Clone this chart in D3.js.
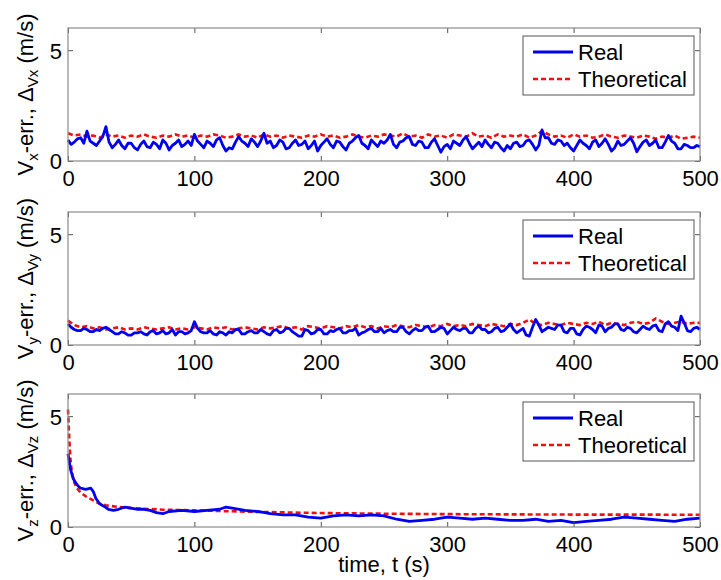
<!DOCTYPE html>
<html>
<head>
<meta charset="utf-8">
<script src="https://cdn.jsdelivr.net/npm/d3@7"></script>
<style>
  body { margin: 0; background: #fff; }
  svg { display: block; font-family: Arial, "Liberation Sans", sans-serif; }
</style>
</head>
<body>
<div id="chart"></div>
<script>
'use strict';

// x ticks + y ticks shared by all three panels
const xTicks = [0, 100, 200, 300, 400, 500];
const yTicks = [0, 5];
const legendLabels = ['Real', 'Theoretical'];

// panels 1 and 2: real sampled every 2.5 s, theoretical every 5 s
const tFine = d3.range(0, 501, 2.5);
const tStep = d3.range(0, 501, 5);

const realX = [
  0.95, 0.75, 0.85, 1.0, 1.05, 0.8, 1.35, 0.9, 0.8, 0.7, 0.9, 1.1, 1.55, 0.85, 0.6, 0.75, 0.95, 0.7, 0.55, 0.8,
  0.8, 0.6, 0.5, 0.75, 0.9, 0.65, 0.6, 0.85, 0.75, 0.55, 0.95, 0.8, 0.5, 0.7, 0.8, 0.95, 0.65, 0.75, 0.9, 0.7,
  1.2, 0.9, 0.75, 0.6, 0.9, 0.8, 0.65, 0.95, 1.05, 0.7, 0.45, 0.6, 0.55, 0.85, 1.1, 0.9, 0.8, 0.65, 1.0, 0.85,
  0.65, 0.9, 1.25, 0.8, 0.9, 0.6, 0.7, 0.95, 0.85, 0.55, 0.6, 0.8, 0.95, 0.7, 0.75, 0.9, 0.55, 0.7, 0.9, 0.45,
  0.7, 0.85, 1.0, 0.75, 0.6, 0.9, 0.85, 0.65, 0.5, 0.8, 0.9, 1.05, 1.15, 0.8, 0.7, 0.55, 0.95, 0.8, 0.65, 0.9,
  0.8, 0.95, 1.2, 0.75, 0.6, 0.85, 0.9, 1.05, 1.1, 0.75, 0.7, 0.9, 0.85, 0.6, 0.6, 0.85, 1.0, 0.7, 0.4, 0.65,
  0.75, 0.55, 0.9, 0.8, 0.7, 0.95, 1.1, 0.8, 0.55, 0.7, 0.85, 0.65, 0.95, 0.75, 0.6, 0.85, 0.8, 0.6, 0.45, 0.7,
  0.55, 0.8, 0.85, 0.65, 0.7, 0.9, 0.95, 0.75, 0.5, 0.7, 1.4, 1.05, 1.05, 0.8, 0.75, 0.95, 0.9, 0.7, 0.8, 0.6,
  0.45, 0.7, 0.95, 0.8, 0.7, 0.55, 0.85, 0.95, 0.65, 0.8, 1.0, 0.75, 0.45, 0.6, 0.9, 0.7, 0.75, 0.9, 1.05, 0.8,
  0.42, 0.65, 0.85, 0.95, 0.7, 0.8, 0.95, 0.6, 0.6, 0.85, 1.15, 0.9, 0.8, 0.55, 0.55, 0.75, 0.7, 0.6, 0.6, 0.7,
  0.65
];
const theoX = [
  1.25, 1.15, 1.2, 1.1, 1.15, 1.05, 1.2, 1.1, 1.15, 1.05,
  1.15, 1.1, 1.2, 1.1, 1.05, 1.15, 1.1, 1.2, 1.1, 1.15,
  1.05, 1.15, 1.1, 1.2, 1.15, 1.05, 1.1, 1.2, 1.1, 1.15,
  1.05, 1.2, 1.1, 1.15, 1.05, 1.15, 1.1, 1.05, 1.15, 1.1,
  1.2, 1.1, 1.15, 1.05, 1.1, 1.2, 1.1, 1.05, 1.15, 1.1,
  1.2, 1.15, 1.1, 1.25, 1.1, 1.15, 1.05, 1.2, 1.1, 1.15,
  1.05, 1.2, 1.15, 1.1, 1.25, 1.1, 1.15, 1.05, 1.2, 1.1,
  1.15, 1.1, 1.2, 1.05, 1.15, 1.35, 1.2, 1.1, 1.15, 1.05,
  1.2, 1.1, 1.15, 1.05, 1.1, 1.2, 1.1, 1.05, 1.15, 1.1,
  1.05, 1.15, 1.1, 1.0, 1.1, 1.05, 1.15, 1.0, 1.05, 1.1,
  1.05
];

const realY = [
  0.95, 0.8, 0.7, 0.65, 0.65, 0.75, 0.7, 0.6, 0.6, 0.7, 0.65, 0.75, 0.8, 0.7, 0.6, 0.5, 0.5, 0.6, 0.55, 0.45,
  0.45, 0.55, 0.55, 0.6, 0.5, 0.45, 0.6, 0.65, 0.5, 0.55, 0.65, 0.5, 0.55, 0.7, 0.45, 0.6, 0.6, 0.5, 0.55, 0.65,
  1.05, 0.75, 0.6, 0.55, 0.55, 0.65, 0.5, 0.45, 0.6, 0.55, 0.45, 0.6, 0.55, 0.7, 0.7, 0.5, 0.5, 0.6, 0.65, 0.55,
  0.55, 0.7, 0.6, 0.5, 0.45, 0.65, 0.7, 0.55, 0.6, 0.75, 0.75, 0.6, 0.5, 0.4, 0.4, 0.7, 0.65, 0.5, 0.55, 0.7,
  0.7, 0.5, 0.5, 0.65, 0.6, 0.7, 0.75, 0.55, 0.55, 0.65, 0.65, 0.75, 0.45, 0.55, 0.6, 0.7, 0.75, 0.6, 0.6, 0.75,
  0.55, 0.65, 0.7, 0.6, 0.6, 0.8, 0.8, 0.6, 0.5, 0.65, 0.75, 0.65, 0.65, 0.8, 0.85, 0.6, 0.6, 0.7, 0.8, 0.75,
  0.5, 0.65, 0.8, 0.7, 0.65, 0.75, 0.75, 0.55, 0.55, 0.75, 0.85, 0.7, 0.7, 0.55, 0.6, 0.75, 0.8, 0.6, 0.65, 0.8,
  0.95, 0.7, 0.55, 0.65, 0.75, 0.45, 0.4, 0.8, 1.15, 0.9, 0.6, 0.7, 0.8, 0.75, 0.7, 0.9, 0.9, 0.6, 0.55, 0.75,
  0.75, 0.5, 0.45, 0.7, 0.85, 0.8, 0.7, 0.55, 0.9, 0.85, 0.6, 0.75, 0.8, 0.95, 0.95, 0.7, 0.65, 0.8, 0.75, 0.6,
  0.55, 0.7, 0.85, 0.75, 0.7, 0.85, 0.9, 0.65, 0.6, 0.95, 1.05, 0.85, 0.8, 0.65, 1.3, 1.0, 0.65, 0.6, 0.75, 0.8,
  0.7
];
const theoY = [
  1.1, 0.9, 0.8, 0.85, 0.75, 0.8, 0.7, 0.75, 0.8, 0.7,
  0.75, 0.7, 0.8, 0.75, 0.7, 0.75, 0.8, 0.7, 0.75, 0.7,
  0.8, 0.75, 0.7, 0.8, 0.75, 0.8, 0.7, 0.75, 0.8, 0.75,
  0.7, 0.8, 0.75, 0.8, 0.85, 0.75, 0.8, 0.7, 0.85, 0.8,
  0.75, 0.85, 0.8, 0.75, 0.85, 0.8, 0.9, 0.8, 0.85, 0.75,
  0.85, 0.8, 0.9, 0.85, 0.8, 0.9, 0.85, 0.8, 0.9, 0.85,
  0.95, 0.85, 0.9, 0.85, 0.95, 0.9, 0.85, 0.95, 0.9, 0.85,
  0.95, 0.9, 1.0, 1.15, 0.95, 0.9, 1.0, 0.95, 0.9, 1.0,
  0.95, 0.9, 1.0, 0.95, 1.05, 0.9, 1.0, 0.95, 0.9, 1.0,
  1.05, 0.95, 1.0, 1.2, 1.05, 0.95, 1.0, 1.05, 0.95, 1.0,
  1.0
];

// panel 3: uneven sampling (fast decay at the start)
const tRealZ = [
  0, 2, 4, 6, 8, 10, 14, 18, 20, 22, 25, 28, 32, 36, 40, 45, 50,
  55, 60, 65, 70, 75, 80, 90, 100, 110, 120, 125, 130,
  140, 150, 160, 170, 180, 190, 200, 210, 220, 230,
  240, 250, 260, 270, 280, 290, 300, 310, 320, 330,
  340, 350, 360, 370, 380, 390, 400, 410, 420, 430,
  440, 450, 460, 470, 480, 490, 500
];
const realZ = [
  3.3, 2.6, 2.2, 2.0, 1.85, 1.75, 1.7, 1.75, 1.6, 1.3, 1.05, 0.95, 0.8, 0.75, 0.8, 0.9, 0.85,
  0.8, 0.8, 0.75, 0.65, 0.6, 0.7, 0.75, 0.7, 0.75, 0.8, 0.9, 0.85,
  0.75, 0.7, 0.6, 0.55, 0.55, 0.45, 0.4, 0.5, 0.55, 0.5,
  0.55, 0.5, 0.35, 0.25, 0.3, 0.35, 0.45, 0.4, 0.35, 0.4,
  0.35, 0.3, 0.3, 0.35, 0.25, 0.3, 0.2, 0.25, 0.3, 0.35,
  0.45, 0.4, 0.35, 0.3, 0.25, 0.35, 0.4
];
const tTheoZ = [0, 1, 2, 3, 5, 7, 10, 15, 20, 25, 30, 40, 50, 75, 100, 150, 200, 250, 300, 350, 400, 450, 500];
const theoZ = [5.3, 4.0, 3.0, 2.5, 2.0, 1.75, 1.55, 1.35, 1.2, 1.05, 0.98, 0.9, 0.85, 0.78, 0.75, 0.68, 0.63, 0.6, 0.58, 0.57, 0.56, 0.56, 0.55];

const panels = [
  { axis: 'x', top: 28, real: [tFine, realX], theo: [tStep, theoX] },
  { axis: 'y', top: 212, real: [tFine, realY], theo: [tStep, theoY] },
  { axis: 'z', top: 394, real: [tRealZ, realZ], theo: [tTheoZ, theoZ] }
];

const width = 721, height = 580;
const left = 68, right = 700, panelH = 133;
const fontSize = 22;

const svg = d3.select('#chart').append('svg')
  .attr('width', width)
  .attr('height', height);

const x = d3.scaleLinear().domain([0, 500]).range([left, right]);

const toPoints = ([ts, vs]) => ts.map((t, i) => [t, vs[i]]);

function drawPanel (p) {
  const y = d3.scaleLinear().domain([0, 6]).range([p.top + panelH, p.top]);
  const g = svg.append('g');

  const line = d3.line().x(d => x(d[0])).y(d => y(d[1]));

  // data
  g.append('path')
    .datum(toPoints(p.theo))
    .attr('d', line)
    .attr('fill', 'none')
    .attr('stroke', '#f01010')
    .attr('stroke-width', 2.6)
    .attr('stroke-dasharray', '5,3');
  g.append('path')
    .datum(toPoints(p.real))
    .attr('d', line)
    .attr('fill', 'none')
    .attr('stroke', '#0000ee')
    .attr('stroke-width', 2.8)
    .attr('stroke-linejoin', 'round');

  // inward ticks on all four sides
  const bottom = g.append('g').attr('transform', `translate(0,${y(0)})`)
    .call(d3.axisBottom(x).tickValues(xTicks).tickSizeInner(-5).tickSizeOuter(0).tickFormat(d3.format('d')));
  const top = g.append('g').attr('transform', `translate(0,${y(6)})`)
    .call(d3.axisTop(x).tickValues(xTicks).tickSizeInner(-5).tickSizeOuter(0).tickFormat(''));
  const leftAx = g.append('g').attr('transform', `translate(${left},0)`)
    .call(d3.axisLeft(y).tickValues(yTicks).tickSizeInner(-5).tickSizeOuter(0).tickPadding(6).tickFormat(d3.format('d')));
  const rightAx = g.append('g').attr('transform', `translate(${right},0)`)
    .call(d3.axisRight(y).tickValues(yTicks).tickSizeInner(-5).tickSizeOuter(0).tickFormat(''));

  [bottom, top, leftAx, rightAx].forEach(a => {
    a.select('.domain').remove();
    a.selectAll('line').attr('stroke', '#555');
    a.selectAll('text')
      .attr('fill', '#000')
      .style('font-family', 'Arial, "Liberation Sans", sans-serif')
      .style('font-size', fontSize + 'px');
  });
  bottom.selectAll('text').attr('dy', null).attr('y', 25);
  leftAx.selectAll('text').attr('dy', '0.36em');

  // box
  g.append('rect')
    .attr('x', left).attr('y', p.top)
    .attr('width', right - left).attr('height', panelH)
    .attr('fill', 'none')
    .attr('stroke', '#8a8a8a')
    .attr('stroke-width', 1.2);

  // legend
  const lg = g.append('g').attr('transform', `translate(523,${p.top + 8})`);
  lg.append('rect')
    .attr('width', 171).attr('height', 59)
    .attr('fill', '#fff')
    .attr('stroke', '#555')
    .attr('stroke-width', 1);
  lg.append('line')
    .attr('x1', 10).attr('x2', 50).attr('y1', 16).attr('y2', 16)
    .attr('stroke', '#0000ee').attr('stroke-width', 2.8);
  lg.append('line')
    .attr('x1', 10).attr('x2', 50).attr('y1', 43).attr('y2', 43)
    .attr('stroke', '#f01010').attr('stroke-width', 2.6)
    .attr('stroke-dasharray', '5,3');
  lg.selectAll('text.lab')
    .data(legendLabels)
    .enter().append('text')
    .attr('class', 'lab')
    .attr('x', 55)
    .attr('y', (d, i) => 24 + i * 27)
    .style('font-size', fontSize + 'px')
    .text(d => d);

  // y label with subscripts
  const cy = p.top + panelH / 2;
  const lab = g.append('text')
    .attr('transform', `translate(33,${cy}) rotate(-90)`)
    .attr('text-anchor', 'middle')
    .style('font-size', fontSize + 'px');
  lab.append('tspan').text('V');
  lab.append('tspan').attr('dy', 5).style('font-size', '15px').text(p.axis);
  lab.append('tspan').attr('dy', -5).text('-err., Δ');
  lab.append('tspan').attr('dy', 5).style('font-size', '15px').text('V' + p.axis);
  lab.append('tspan').attr('dy', -5).text(' (m/s)');
}

panels.forEach(drawPanel);

svg.append('text')
  .attr('x', (left + right) / 2)
  .attr('y', 572)
  .attr('text-anchor', 'middle')
  .style('font-size', fontSize + 'px')
  .text('time, t (s)');
</script>
</body>
</html>
